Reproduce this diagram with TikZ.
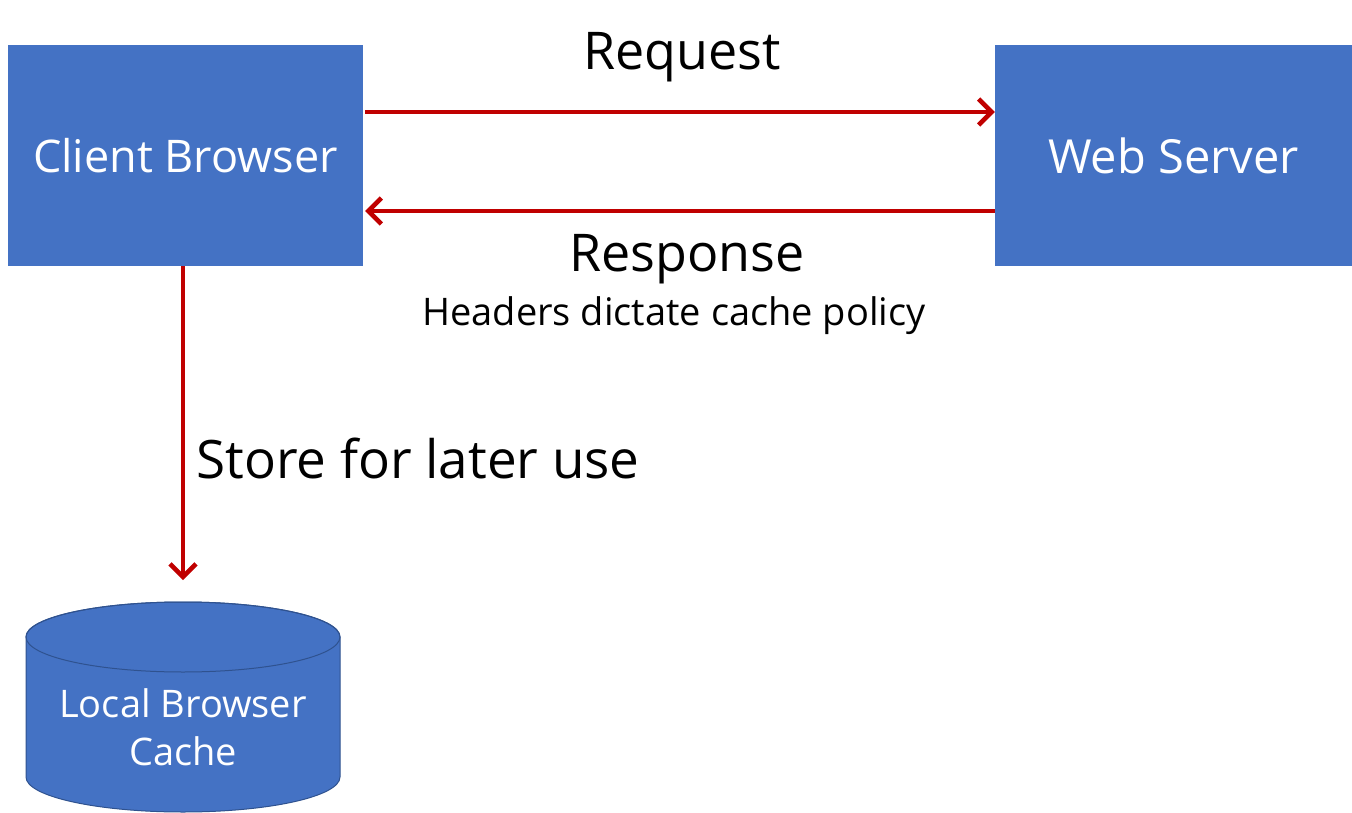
\documentclass[tikz,border=0pt]{standalone}
\usepackage{fontspec}
\setmainfont{Open Sans}
\usetikzlibrary{arrows.meta}
\definecolor{boxblue}{HTML}{4472C4}
\definecolor{edgeblue}{HTML}{2F528F}
\definecolor{arrred}{HTML}{C00000}
\tikzset{
  box/.style={fill=boxblue, draw=none, text=white, inner sep=0pt},
  conn/.style={draw=arrred, line width=4.5pt, -{Straight Barb[length=13pt,width=26pt,line width=4.5pt]}},
  lbl/.style={inner sep=0pt, text=black},
}
\begin{document}
\begin{tikzpicture}[x=1pt,y=-1pt]
\useasboundingbox (0,0) rectangle (1352,813);
\node[box, minimum width=355pt, minimum height=221pt, font=\fontsize{45}{52}\selectfont] (client) at (185.5,155.5) {Client Browser};
\node[box, minimum width=357pt, minimum height=221pt, font=\fontsize{47}{54}\selectfont] (server) at (1173.5,155.5) {Web Server};
% cylinder
\fill[boxblue, draw=edgeblue, line width=1pt] (26,637) -- (26,777) arc[start angle=180, end angle=0, x radius=157, y radius=35] -- (340,637) arc[start angle=0, end angle=-180, x radius=157, y radius=35] -- cycle;
\draw[edgeblue, line width=1pt] (183,637) ellipse[x radius=157, y radius=35];
\node[lbl, text=white, align=center, font=\fontsize{38}{48}\selectfont] (cache) at (183,727) {Local Browser\\Cache};
\coordinate (cachetop) at (183,580);
% connectors
\coordinate (reqA) at (client.east |- 0,112);
\coordinate (reqB) at (server.west |- 0,112);
\coordinate (resA) at (server.west |- 0,211);
\coordinate (resB) at (client.east |- 0,211);
\draw[conn] ([xshift=2pt]reqA) -- (reqB);
\draw[conn] (resA) -- ([xshift=2pt]resB);
\draw[conn] (client.south -| 183,0) -- (cachetop);
% labels
\node[lbl, font=\fontsize{52}{60}\selectfont] (req) at (682,57) {Request};
\node[lbl, font=\fontsize{52}{60}\selectfont] (res) at (687,259) {Response};
\node[lbl, font=\fontsize{38}{44}\selectfont] (hdr) at (674,316) {Headers dictate cache policy};
\node[lbl, font=\fontsize{53}{60}\selectfont, anchor=west] (store) at (196,458) {Store for later use};
\end{tikzpicture}
\end{document}
